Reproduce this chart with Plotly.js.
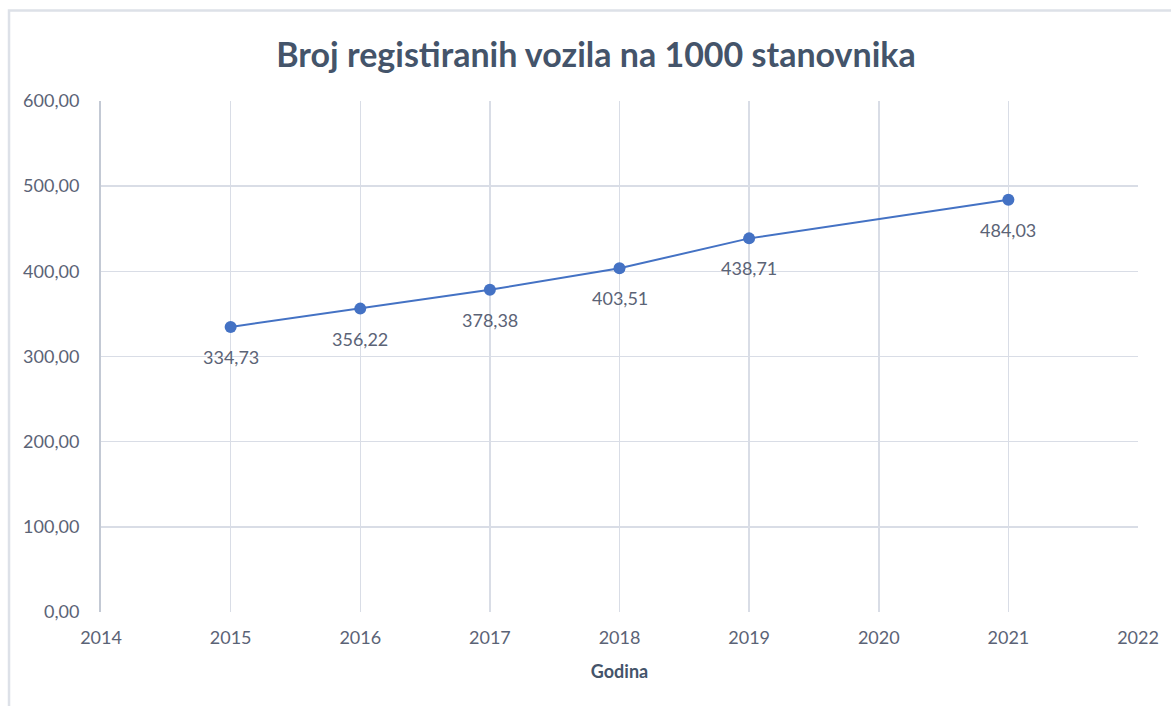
<!DOCTYPE html>
<html>
<head>
<meta charset="utf-8">
<script src="https://cdn.plot.ly/plotly-3.0.1.min.js"></script>
<style>
html,body{margin:0;padding:0;background:#fff;}
#chart{width:1171px;height:706px;}
</style>
</head>
<body>
<div id="chart"></div>
<script>
const years = [2015, 2016, 2017, 2018, 2019, 2021];
const vehiclesPer1000 = [334.73, 356.22, 378.38, 403.51, 438.71, 484.03];
const xTicks = [2014, 2015, 2016, 2017, 2018, 2019, 2020, 2021, 2022];
const yTicks = [0, 100, 200, 300, 400, 500, 600];
const chartTitle = 'Broj registiranih vozila na 1000 stanovnika';
const xTitle = 'Godina';

const font = 'Lato, "Open Sans", sans-serif';
const tickColor = '#5b6376';
const gridColor = '#d9dde6';

function fmt(v) { return v.toFixed(2).replace('.', ','); }

const trace = {
  x: years,
  y: vehiclesPer1000,
  type: 'scatter',
  mode: 'lines+markers',
  line: {color: '#4472c4', width: 2},
  marker: {color: '#4472c4', size: 12},
  hoverinfo: 'x+y',
  cliponaxis: false
};

const labels = years.map((yr, i) => ({
  x: yr, y: vehiclesPer1000[i], xref: 'x', yref: 'y',
  text: fmt(vehiclesPer1000[i]),
  showarrow: false,
  yshift: -30,
  xanchor: 'center', yanchor: 'middle',
  font: {family: font, size: 18, color: tickColor}
}));

const layout = {
  width: 1171,
  height: 706,
  margin: {l: 101, r: 33, t: 101, b: 94},
  paper_bgcolor: '#ffffff',
  plot_bgcolor: '#ffffff',
  separators: ',.',
  showlegend: false,
  title: {
    text: '<b>' + chartTitle + '</b>',
    font: {family: font, size: 34, color: '#44546a'},
    x: 0.509, xanchor: 'center',
    y: 0.922, yanchor: 'middle'
  },
  xaxis: {
    range: [2014, 2022],
    tickvals: xTicks,
    ticktext: xTicks.map(String),
    showgrid: true,
    gridcolor: gridColor,
    gridwidth: 1.5,
    zeroline: false,
    showline: false,
    ticks: '',
    ticklabelstandoff: 13,
    tickfont: {family: font, size: 18, color: tickColor},
    title: {
      text: '<b>' + xTitle + '</b>',
      font: {family: font, size: 18, color: '#44546a'},
      standoff: 18
    },
    fixedrange: true
  },
  yaxis: {
    range: [0, 600],
    tickvals: yTicks,
    tickformat: '.2f',
    showgrid: true,
    gridcolor: gridColor,
    gridwidth: 1.5,
    zeroline: false,
    showline: true,
    linecolor: '#c3c9d4',
    linewidth: 2,
    ticks: '',
    ticklabelstandoff: 16,
    tickfont: {family: font, size: 18, color: tickColor},
    fixedrange: true
  },
  annotations: labels,
  shapes: [
    {
      type: 'rect', xref: 'paper', yref: 'paper',
      x0: -0.0887, x1: 1.2, y0: -0.3, y1: 1.177,
      line: {color: '#dde1e8', width: 2.5},
      fillcolor: 'rgba(0,0,0,0)',
      layer: 'below'
    }
  ]
};

Plotly.newPlot('chart', [trace], layout, {displayModeBar: false, staticPlot: true});
</script>
</body>
</html>
